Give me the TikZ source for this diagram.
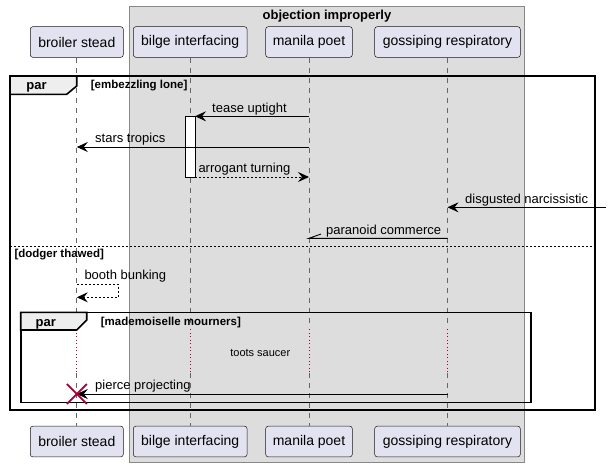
\documentclass[tikz,border=0pt]{standalone}
\usepackage{fontspec}
\setmainfont{Liberation Sans}
\usetikzlibrary{arrows.meta}
\definecolor{partfill}{HTML}{E2E2F0}
\definecolor{partdraw}{HTML}{181818}
\definecolor{boxfill}{HTML}{DDDDDD}
\definecolor{boxdraw}{HTML}{888888}
\definecolor{tabfill}{HTML}{EEEEEE}
\definecolor{crim}{HTML}{A80036}
\definecolor{lifec}{HTML}{666666}
\tikzset{
  part/.style={draw=partdraw, fill=partfill, line width=0.5pt, rounded corners=2.5pt,
    minimum height=30.6pt, inner sep=0pt, font=\fontsize{14}{16}\selectfont},
  life/.style={draw=lifec, line width=0.8pt, dash pattern=on 5pt off 5pt},
  delayline/.style={draw=crim, line width=1pt, dash pattern=on 1pt off 2.5pt},
  msg/.style={draw=black, line width=0.9pt, -{Stealth[length=11pt,width=10pt,inset=4pt]}},
  reply/.style={msg, dash pattern=on 2pt off 2pt},
  lbl/.style={anchor=base west, inner sep=0pt, font=\fontsize{13}{15}\selectfont},
  frame/.style={draw=black, line width=1.6pt},
  tab/.style={draw=black, line width=1.6pt, fill=tabfill},
  tabtxt/.style={anchor=base, inner sep=0pt, font=\fontsize{13}{15}\selectfont\bfseries},
  guard/.style={anchor=base west, inner sep=0pt, font=\fontsize{11.5}{13}\selectfont\bfseries},
}
\begin{document}
\begin{tikzpicture}[x=1pt, y=-1pt]
\useasboundingbox (0,0) rectangle (609,467);
\fill[white] (0,0) rectangle (609,467);
% group box
\draw[fill=boxfill, draw=boxdraw, line width=0.6pt] (129.7,6.7) rectangle (524.3,462);
\node[anchor=base, inner sep=0pt, font=\fontsize{13}{15}\selectfont\bfseries] (gtitle) at (327,19) {objection improperly};
% participants
\node[part, minimum width=93pt] (bs) at (76.8,42) {broiler stead};
\node[part, minimum width=113.7pt] (bi) at (190.2,42) {bilge interfacing};
\node[part, minimum width=86.6pt] (mp) at (309,42) {manila poet};
\node[part, minimum width=145.6pt] (gr) at (447.5,42) {gossiping respiratory};
\node[part, minimum width=93pt] (bs2) at (76.8,441.5) {broiler stead};
\node[part, minimum width=113.7pt] (bi2) at (190.2,441.5) {bilge interfacing};
\node[part, minimum width=86.6pt] (mp2) at (309,441.5) {manila poet};
\node[part, minimum width=145.6pt] (gr2) at (447.5,441.5) {gossiping respiratory};
% row coordinates
\coordinate (dtop) at (0,327);
\coordinate (dA) at (0,329);
\coordinate (dB) at (0,372);
\coordinate (dbot) at (0,373);
% lifelines
\foreach \a/\b in {bs/bs2, bi/bi2, mp/mp2, gr/gr2}{
  \draw[life] (\a.south) -- (\a.south |- dtop);
  \draw[delayline] (\a.south |- dA) -- (\a.south |- dB);
  \draw[life] (\a.south |- dbot) -- (\b.north);
}
% outer par frame
\draw[frame] (10,76) rectangle (595,410);
\draw[tab] (10,76) -- (76.7,76) -- (76.7,86) -- (66.7,94.3) -- (10,94.3) -- cycle;
\node[tabtxt] (par1) at (36.5,89) {par};
\node[guard] (g1) at (90.7,88.5) {[embezzling lone]};
% activation
\draw[fill=white, draw=black, line width=0.8pt] (185.7,116.3) rectangle (195,177);
\coordinate (actR1) at (195,116.3);
\coordinate (actR2) at (195,177);
% message rows
\coordinate (r1) at (0,116.3);
\coordinate (r2) at (0,147);
\coordinate (r3) at (0,177);
\coordinate (r4) at (0,207.3);
\coordinate (r5) at (0,238.3);
\coordinate (r6) at (0,394);
\draw[msg] (mp.south |- r1) -- (actR1);
\node[lbl] (m1) at (212,112) {tease uptight};
\draw[msg] (mp.south |- r2) -- (bs.south |- r2);
\node[lbl] (m2) at (95,142.7) {stars tropics};
\draw[reply] (actR2) -- (mp.south |- r3);
\node[lbl] (m3) at (198.3,172.7) {arrogant turning};
\coordinate (ext) at (606,207.3);
\draw[msg] (ext) -- (gr.south |- r4);
\node[lbl] (m4) at (465,203) {disgusted narcissistic};
\draw[draw=black, line width=0.9pt] (gr.south |- r5) -- (mp.south |- r5) -- ++(12,-4.3);
\node[lbl] (m5) at (326,234) {paranoid commerce};
% separator
\draw[black, line width=0.8pt, dash pattern=on 2pt off 2pt] (10,246.7) -- (595,246.7);
\node[guard] (g2) at (14.3,257.3) {[dodger thawed]};
% self message
\draw[reply] (bs.south |- 0,284) -- (118.3,284) -- (118.3,297.3) -- (bs.south |- 0,297.3);
\node[lbl] (m6) at (84.3,279.5) {booth bunking};
% inner par
\draw[frame] (20.7,312.3) rectangle (530.7,402.3);
\draw[tab] (20.7,312.3) -- (86.7,312.3) -- (86.7,320) -- (76.7,330) -- (20.7,330) -- cycle;
\node[tabtxt] (par2) at (45.7,326.5) {par};
\node[guard] (g3) at (100.7,325.5) {[mademoiselle mourners]};
\node[anchor=base, inner sep=0pt, font=\fontsize{11}{13}\selectfont] (delay) at (260.3,356) {toots saucer};
% destroy message
\draw[msg] (gr.south |- r6) -- (bs.south |- r6);
\node[lbl] (m7) at (95,389.7) {pierce projecting};
\coordinate (xc) at (bs.south |- r6);
\draw[crim, line width=1.8pt] ([shift={(-10,-10)}]xc) -- ([shift={(10,10)}]xc);
\draw[crim, line width=1.8pt] ([shift={(-10,10)}]xc) -- ([shift={(10,-10)}]xc);
\end{tikzpicture}
\end{document}
